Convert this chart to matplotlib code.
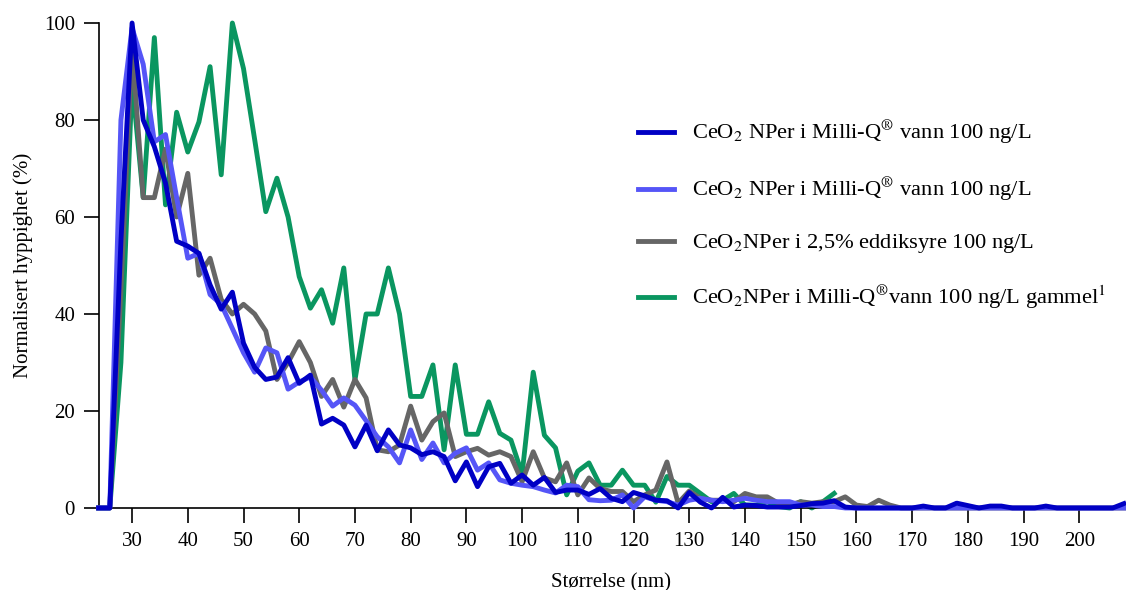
import numpy as np
import matplotlib
matplotlib.use("Agg")
import matplotlib.pyplot as plt
from matplotlib.lines import Line2D

plt.rcParams['font.family'] = ['Liberation Serif', 'DejaVu Serif']
plt.rcParams['mathtext.fontset'] = 'stix'

# Particle size bins (nm), 2 nm steps
size_nm = np.arange(24, 210, 2)
green_size_nm = np.arange(24, 158, 2)

milliq_a = [
    0, 0, 55, 100, 80, 74.5, 67, 55, 54, 52.5,
    46, 41, 44.5, 34, 29, 26.5, 27, 31, 25.7, 27.4,
    17.3, 18.5, 17.1, 12.6, 17.1, 11.8, 16.1, 13, 12.4, 11,
    11.6, 10.6, 5.6, 9.5, 4.4, 8.5, 9.2, 5.1, 6.8, 4.7,
    6.3, 3.2, 3.7, 3.7, 2.8, 4, 2, 1.3, 3.2, 2.5,
    1.6, 1.5, 0, 3.2, 1.2, 0, 2.2, 0.2, 0.6, 0.5,
    0.2, 0.2, 0.2, 0.5, 0.9, 1, 1.5, 0.2, 0, 0,
    0, 0, 0, 0, 0.4, 0, 0, 1, 0.5, 0,
    0.4, 0.4, 0, 0, 0, 0.4, 0, 0, 0, 0,
    0, 0, 0.9,
]

milliq_b = [
    0, 0, 80, 99, 91.5, 75.5, 77, 64, 51.5, 52.5,
    44, 42, 37, 32, 28, 33, 32, 24.5, 26, 27,
    24.3, 21, 22.7, 21.2, 18, 14.7, 12.6, 9.3, 16.1, 10,
    13.4, 9.3, 11.3, 12.4, 7.8, 9.3, 5.8, 5.1, 4.7, 4.4,
    3.7, 3.1, 4.7, 4.4, 1.7, 1.5, 1.6, 2.7, 0, 2.3,
    1.6, 1.3, 0.6, 1.6, 2, 1.6, 1.3, 1.6, 2, 1.6,
    1.3, 1.3, 1.3, 0.6, 0.6, 0.3, 0.3, 0, 0, 0,
    0, 0, 0, 0, 0, 0, 0, 0, 0, 0,
    0, 0, 0, 0, 0, 0, 0, 0, 0, 0,
    0, 0, 0,
]

acetic = [
    0, 0, 45, 95, 64, 64, 74, 60, 69, 48,
    51.5, 43, 40, 42, 40, 36.5, 26.5, 30, 34.3, 30,
    23, 26.5, 20.8, 26.5, 22.7, 12, 11.6, 13, 21, 14,
    17.8, 19.6, 10.6, 11.6, 12.3, 10.9, 11.6, 10.6, 5.4, 11.6,
    6.2, 5.4, 9.3, 2.7, 6.2, 4, 3.4, 3.4, 1.3, 2.7,
    3.7, 9.5, 1, 3.5, 2, 1.6, 1.6, 1.3, 3, 2.3,
    2.3, 1, 0.6, 1.3, 1, 1.3, 1.3, 2.3, 0.6, 0.3,
    1.6, 0.6, 0, 0, 0, 0, 0, 0, 0, 0,
    0, 0, 0, 0, 0, 0, 0, 0, 0, 0,
    0, 0, 0,
]

milliq_old = [
    0, 0, 30, 88, 64, 97, 62.5, 81.6, 73.4, 79.6,
    91, 68.7, 100, 90.6, 76, 61.1, 68, 60, 47.7, 41.2,
    45, 38.1, 49.5, 26.4, 40, 40, 49.5, 40, 23, 23,
    29.5, 12, 29.5, 15.2, 15.2, 21.9, 15.4, 14, 7, 28,
    15, 12.4, 2.7, 7.6, 9.3, 4.7, 4.7, 7.8, 4.7, 4.7,
    1.2, 6.5, 4.7, 4.7, 3, 1.3, 1.6, 3, 0.6, 0.6,
    1.3, 0.3, 0, 1.3, 0, 1.3, 3,
]

labels = [
    r"CeO$_2$ NPer i Milli-Q$^{®}$ vann 100 ng/L",
    r"CeO$_2$ NPer i Milli-Q$^{®}$ vann 100 ng/L",
    r"CeO$_2$NPer i 2,5% eddiksyre 100 ng/L",
    r"CeO$_2$NPer i Milli-Q$^{®}$vann 100 ng/L gammel$^1$",
]
colors = ["#0000C4", "#5555F7", "#666666", "#0A9660"]

fig = plt.figure(figsize=(11.26, 5.90), dpi=100)
ax = fig.add_axes([0.0876, 0.139, 0.9105, 0.822])

lw = 3.5
ax.plot(green_size_nm, milliq_old, color=colors[3], lw=lw, zorder=2, clip_on=False)
ax.plot(size_nm, acetic, color=colors[2], lw=lw, zorder=3, clip_on=False)
ax.plot(size_nm, milliq_b, color=colors[1], lw=lw, zorder=4, clip_on=False)
ax.plot(size_nm, milliq_a, color=colors[0], lw=lw, zorder=5, clip_on=False)

ax.set_xlim(24, 208)
ax.set_ylim(0, 100)
ax.set_xticks(np.arange(30, 201, 10))
ax.set_yticks(np.arange(0, 101, 20))

for side in ("top", "right"):
    ax.spines[side].set_visible(False)
for side in ("left", "bottom"):
    ax.spines[side].set_linewidth(1.2)
ax.tick_params(axis="both", direction="out", length=11, width=1.2,
               labelsize=15, pad=6, colors="black")

ax.set_xlabel("Størrelse (nm)", fontsize=15, labelpad=16)
ax.set_ylabel("Normalisert hyppighet (%)", fontsize=15, labelpad=8)

handles = [Line2D([0], [0], color=c, lw=lw) for c in colors]
fig.legend(handles, labels, loc="upper left",
           bbox_to_anchor=(638 / 1126, 1 - 119 / 590),
           frameon=False, fontsize=16.2, handlelength=1.6, handletextpad=0.8,
           labelspacing=1.27, borderpad=0, borderaxespad=0)

fig.savefig("out.png", dpi=100)
